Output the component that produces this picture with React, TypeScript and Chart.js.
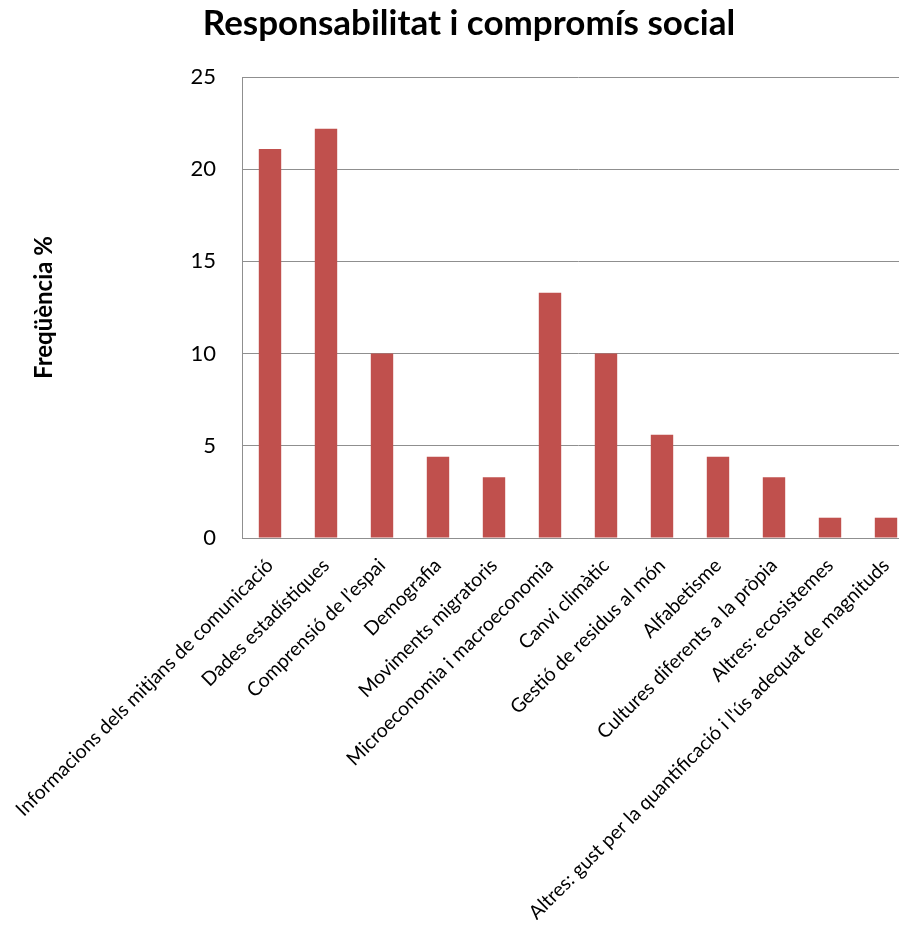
import React, { useEffect, useRef } from "react";
import { Chart, registerables } from "chart.js";

Chart.register(...registerables);

const chartTitle = "Responsabilitat i compromís social";
const yAxisTitle = "Freqüència %";
const categories = [
  "Informacions dels mitjans de comunicació",
  "Dades estadístiques",
  "Comprensió de l’espai",
  "Demografia",
  "Moviments migratoris",
  "Microeconomia i macroeconomia",
  "Canvi climàtic",
  "Gestió de residus al món",
  "Alfabetisme",
  "Cultures diferents a la pròpia",
  "Altres: ecosistemes",
  "Altres: gust per la quantificació i l'ús adequat de magnituds",
];
const frequencies = [21.1, 22.2, 10, 4.4, 3.3, 13.3, 10, 5.6, 4.4, 3.3, 1.1, 1.1];
const yTicks = [0, 5, 10, 15, 20, 25];

const FONT = "Lato, 'Open Sans', sans-serif";

export default function App() {
  const canvasRef = useRef<HTMLCanvasElement | null>(null);

  useEffect(() => {
    const canvas = canvasRef.current;
    if (!canvas) return;
    const chart = new Chart(canvas, {
      type: "bar",
      data: {
        labels: categories,
        datasets: [
          {
            label: yAxisTitle,
            data: frequencies,
            backgroundColor: "#C0504D",
            borderWidth: 0,
            barPercentage: 0.4,
            categoryPercentage: 1,
          },
        ],
      },
      options: {
        responsive: false,
        animation: false,
        devicePixelRatio: 1,
        layout: { padding: { left: 24, right: 2, top: 3, bottom: 0 } },
        plugins: {
          legend: { display: false },
          tooltip: { enabled: false },
          title: {
            display: true,
            text: chartTitle,
            color: "#000000",
            font: { family: FONT, size: 35, weight: "bold" },
            padding: { top: 0, bottom: 32 },
          },
        },
        scales: {
          x: {
            offset: true,
            grid: { display: false, drawTicks: false },
            border: { display: true, color: "#8f8f8f", width: 1 },
            ticks: {
              color: "#000000",
              font: { family: FONT, size: 19.5 },
              minRotation: 45,
              maxRotation: 45,
              autoSkip: false,
              padding: 16,
            },
            afterFit: (scale: any) => {
              scale.height = 390;
              scale.paddingLeft = 0;
              scale.paddingRight = 0;
            },
          },
          y: {
            min: 0,
            max: 25,
            afterBuildTicks: (scale: any) => {
              scale.ticks = yTicks.map((v) => ({ value: v }));
            },
            grid: { color: "#8f8f8f", lineWidth: 1, drawTicks: false },
            border: { display: true, color: "#8f8f8f", width: 1 },
            ticks: {
              color: "#000000",
              font: { family: FONT, size: 22 },
              padding: 26,
            },
            title: {
              display: true,
              text: yAxisTitle,
              color: "#000000",
              font: { family: FONT, size: 24, weight: "bold" },
              padding: { top: 6, bottom: 0 },
            },
            afterFit: (scale: any) => {
              scale.width = 218;
            },
          },
        },
      },
    });
    return () => chart.destroy();
  }, []);

  return (
    <div style={{ margin: -8, width: 907, height: 928, overflow: "hidden", background: "#ffffff" }}>
      <canvas ref={canvasRef} width={916} height={928} style={{ display: "block" }} />
    </div>
  );
}
